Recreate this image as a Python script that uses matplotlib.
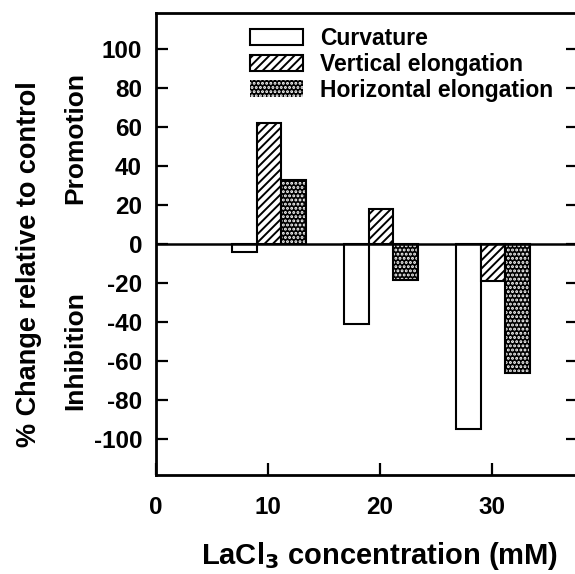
import numpy as np
import matplotlib
matplotlib.use("Agg")
import matplotlib.pyplot as plt

plt.rcParams['font.family'] = ['Liberation Sans', 'DejaVu Sans']
plt.rcParams['font.weight'] = 'bold'
plt.rcParams['axes.unicode_minus'] = False
plt.rcParams['hatch.linewidth'] = 1.4

# data
concentrations = [10, 20, 30]
series_names = ['Curvature', 'Vertical elongation', 'Horizontal elongation']
curvature = [-4, -41, -95]
vertical = [62, 18, -19]
horizontal = [33, -18.5, -66]
y_ticks = [100, 80, 60, 40, 20, 0, -20, -40, -60, -80, -100]
x_ticks = [0, 10, 20, 30]

fig = plt.figure(figsize=(5.75, 5.74), dpi=100)
ax = fig.add_axes([0.2713, 0.1725, 0.7339, 0.8049])

width = 2.2
x = np.array(concentrations, dtype=float)
pos = [x + (i - 1) * width + 0.1 for i in range(3)]

h_curv = ax.bar(pos[0], curvature, width, facecolor='white', edgecolor='black',
                linewidth=1.5, label=series_names[0], zorder=2)
h_vert = ax.bar(pos[1], vertical, width, facecolor='white', edgecolor='black',
                hatch='////', linewidth=1.5, label=series_names[1], zorder=2)
# black bars with white dots, outline drawn on top
h_horz = ax.bar(pos[2], horizontal, width, facecolor='black', edgecolor='white',
                hatch='....', linewidth=0, label=series_names[2], zorder=2)
ax.bar(pos[2], horizontal, width, facecolor='none', edgecolor='black',
       linewidth=1.5, zorder=2.5)

ax.axhline(0, color='black', linewidth=1.8, zorder=3)

ax.set_xlim(0, 37.68)
ax.set_ylim(-118.5, 118.5)
ax.set_xticks(x_ticks)
ax.set_yticks(y_ticks)
ax.tick_params(axis='both', direction='in', length=8.5, width=1.6,
               labelsize=17.5)
ax.tick_params(axis='y', right=True, pad=10)
ax.tick_params(axis='x', pad=15)
for s in ax.spines.values():
    s.set_linewidth(2)

ax.set_ylabel('% Change relative to control', fontsize=19.5, fontweight='bold')
ax.yaxis.set_label_coords(-0.27, 0.457)
ax.set_xlabel('LaCl$_\\mathbf{3}$ concentration (mM)', fontsize=21, fontweight='bold')
ax.xaxis.set_label_coords(0.531, -0.14)

fig.text(75 / 575, 1 - 138 / 574, 'Promotion', rotation=90, ha='center',
         va='center', fontsize=19, fontweight='bold')
fig.text(75 / 575, 1 - 351 / 574, 'Inhibition', rotation=90, ha='center',
         va='center', fontsize=19, fontweight='bold')

leg = ax.legend(handles=[h_curv, h_vert, h_horz], loc='upper left',
                bbox_to_anchor=(250 / 575, 1 - 27 / 574),
                bbox_transform=fig.transFigure, frameon=False,
                fontsize=16.5, handlelength=2.31, handleheight=0.7,
                handletextpad=0.75, labelspacing=0.12, borderpad=0,
                borderaxespad=0)

fig.savefig('out.png', dpi=100)
